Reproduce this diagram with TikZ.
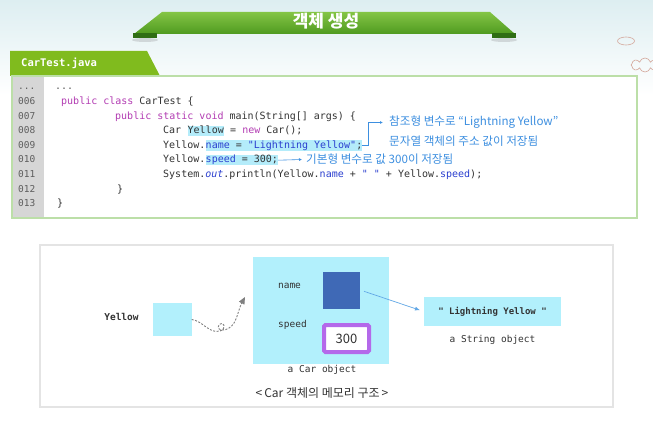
\documentclass[tikz,border=0pt]{standalone}
\usepackage{fontspec}
\setmonofont{DejaVu Sans Mono}
\newfontfamily\kr{Noto Sans CJK KR}
\usetikzlibrary{arrows.meta,shapes.symbols,shapes.geometric}

\definecolor{hlc}{HTML}{B4ECFA}
\definecolor{kwc}{HTML}{B33DB3}
\definecolor{fldc}{HTML}{2B3FCF}
\definecolor{codefg}{HTML}{333333}
\definecolor{numc}{HTML}{5E5E5E}
\definecolor{gutterc}{HTML}{D6D6D6}
\definecolor{framec}{HTML}{BCDFA8}
\definecolor{tabc}{HTML}{80BB1E}
\definecolor{bandtop}{HTML}{84C545}
\definecolor{bandbot}{HTML}{4F9A20}
\definecolor{bandtab}{HTML}{2F6E14}
\definecolor{notec}{HTML}{3D8FE0}
\definecolor{cyanc}{HTML}{B2F0FC}
\definecolor{sqc}{HTML}{3F69B6}
\definecolor{purplec}{HTML}{B469EA}
\definecolor{linkc}{HTML}{62A8E6}
\definecolor{panelc}{HTML}{E4E4E4}
\definecolor{cloudc}{HTML}{D4A89C}
\definecolor{skyc}{HTML}{DDEEF1}

\newcommand\cKw[1]{\textcolor{kwc}{#1}}
\newcommand\cFld[1]{\textcolor{fldc}{#1}}

\begin{document}
\begin{tikzpicture}[x=1pt,y=-1pt,
  code/.style={font=\ttfamily\fontsize{10}{12}\selectfont, text=codefg,
    inner sep=0pt, anchor=base west},
  hlpart/.style={code, fill=hlc, text height=8pt, text depth=2.4pt},
  lnum/.style={font=\ttfamily\fontsize{9.5}{11}\selectfont, text=numc,
    inner sep=0pt, anchor=base west},
  note/.style={font=\kr\fontsize{11.6}{13}\selectfont, text=notec,
    inner sep=0pt, anchor=west},
  notearrow/.style={draw=notec, line width=0.6pt, -{Latex[length=3pt,width=3pt]}},
  cyanbox/.style={fill=cyanc, inner sep=0pt},
  lbl/.style={font=\ttfamily\fontsize{9.5}{11}\selectfont, text=codefg, inner sep=0pt},
]
\useasboundingbox (0,0) rectangle (653,422);

% background
\fill[white] (0,0) rectangle (653,422);
\shade[top color=skyc, bottom color=white] (0,0) rectangle (653,95);

% clouds
\node[ellipse, draw=cloudc, line width=0.6pt, minimum width=17, minimum height=8,
  inner sep=0pt] (cl1) at (626,41) {};
\node[cloud, cloud puffs=8, aspect=2, draw=cloudc, line width=0.6pt,
  minimum width=28, minimum height=14, inner sep=0pt] (cl2) at (645,65) {};

% title ribbon
\fill[gray, opacity=0.25] (145,40) ellipse (13 and 2);
\fill[gray, opacity=0.25] (504,40) ellipse (13 and 2);
\shade[top color=bandtop, bottom color=bandbot]
  (162,12) -- (490,12) -- (515,34) -- (134,34) -- cycle;
\fill[bandtab] (133,33) rectangle (157,38.5);
\fill[bandtab] (492,33) rectangle (516,38.5);
\node[font=\kr\bfseries\fontsize{17}{20}\selectfont, text=white] (title) at (326,21) {객체 생성};

% file tab and code frame
\fill[tabc] (10,51) -- (147,51) -- (160,76) -- (10,76) -- cycle;
\node[font=\ttfamily\bfseries\fontsize{10.5}{12}\selectfont, text=white, anchor=west,
  inner sep=0pt] (fname) at (21,63) {CarTest.java};
\fill[white] (12,76) rectangle (637,218);
\fill[gutterc] (13,77) rectangle (44,217);
\draw[framec, line width=1.6pt] (12,76) rectangle (637,218);

% line numbers
\node[lnum] (n0) at (18,90)    {...};
\node[lnum] (n1) at (18,104.6) {006};
\node[lnum] (n2) at (18,119.2) {007};
\node[lnum] (n3) at (18,133.8) {008};
\node[lnum] (n4) at (18,148.4) {009};
\node[lnum] (n5) at (18,163)   {010};
\node[lnum] (n6) at (18,177.6) {011};
\node[lnum] (n7) at (18,192.2) {012};
\node[lnum] (n8) at (18,206.8) {013};

% source lines
\node[code, text=numc] (c0) at (55,90) {...};
\node[code] (c1) at (61,104.6) {\cKw{public class} CarTest \{};
\node[code] (c2) at (115,119.2) {\cKw{public static void} main(String[] args) \{};
\node[code] (c3a) at (163,133.8) {Car\ \null};
\node[hlpart] (c3b) at (c3a.base east) {Yellow};
\node[code] (c3c) at (c3b.base east) {\null\ = \cKw{new} Car();};
\node[code] (c4a) at (163,148.4) {Yellow.};
\node[hlpart] (c4b) at (c4a.base east) {\cFld{name} = \cFld{"Lightning Yellow"};};
\node[code] (c5a) at (163,163) {Yellow.};
\node[hlpart] (c5b) at (c5a.base east) {\cFld{speed} = 300;};
\node[code] (c6) at (163,177.6)
  {System.\cFld{\itshape out}.println(Yellow.\cFld{name} + \cFld{" "} + Yellow.\cFld{speed});};
\node[code] (c7) at (117,192.2) {\}};
\node[code] (c8) at (57,206.8) {\}};

% annotations
\node[note] (a1) at (389,122.5) {참조형 변수로 “Lightning Yellow”};
\node[note] (a2) at (389,141) {문자열 객체의 주소 값이 저장됨};
\node[note] (a3) at (306,159.5) {기본형 변수로 값 300이 저장됨};
\draw[notearrow] (c4b.east) -- ++(6,0) |- ([xshift=-6pt]a1.west);
\draw[notearrow] (c5b.east) -- ([xshift=-4pt]a3.west);

% memory diagram
\draw[panelc, line width=1.6pt, fill=white] (40,245) rectangle (613,407);

\node[lbl, font=\ttfamily\bfseries\fontsize{9.5}{11}\selectfont] (ylbl) at (121.5,317) {Yellow};
\node[cyanbox, minimum width=39, minimum height=33] (yb) at (172,319.5) {};

\node[cyanbox, minimum width=136, minimum height=107] (car) at (321,310.5) {};
\node[lbl] (nmlbl) at (289.5,286) {name};
\node[lbl] (splbl) at (292.5,325) {speed};
\node[fill=sqc, minimum size=37, inner sep=0pt] (nm) at (341.5,290) {};
\node[draw=purplec, line width=4pt, fill=white, rounded corners=1.5pt,
  minimum width=45, minimum height=27, inner sep=0pt,
  font=\kr\fontsize{13}{15}\selectfont, text=codefg] (sp) at (346.5,338.5) {300};
\node[lbl] (carcap) at (322,370) {a Car object};
\node[font=\kr\fontsize{12}{14}\selectfont, text=codefg, inner sep=0pt] (cap) at (322,393)
  {<\,Car 객체의 메모리 구조\,>};

\node[cyanbox, minimum width=137, minimum height=29,
  font=\ttfamily\bfseries\fontsize{9}{11}\selectfont, text=codefg] (strb) at (492.5,311.5)
  {" Lightning Yellow "};
\node[lbl] (strcap) at (492.5,340) {a String object};

\draw[linkc, line width=0.7pt, -{Latex[length=5pt,width=4pt]}, shorten <=4pt, shorten >=4pt]
  (nm.east) -- (strb.west);

\coordinate (ptip) at (245,297);
\draw[gray, line width=0.9pt, dash pattern=on 2pt off 1.5pt,
  -{Triangle[length=7pt,width=6pt]}]
  (yb.east) .. controls (203,321) and (209,334) .. (220,331)
  .. controls (227,329) and (224,320) .. (219,325)
  .. controls (215,331) and (228,333) .. (234,323)
  .. controls (238,316) and (239,308) .. (ptip);
\end{tikzpicture}
\end{document}
